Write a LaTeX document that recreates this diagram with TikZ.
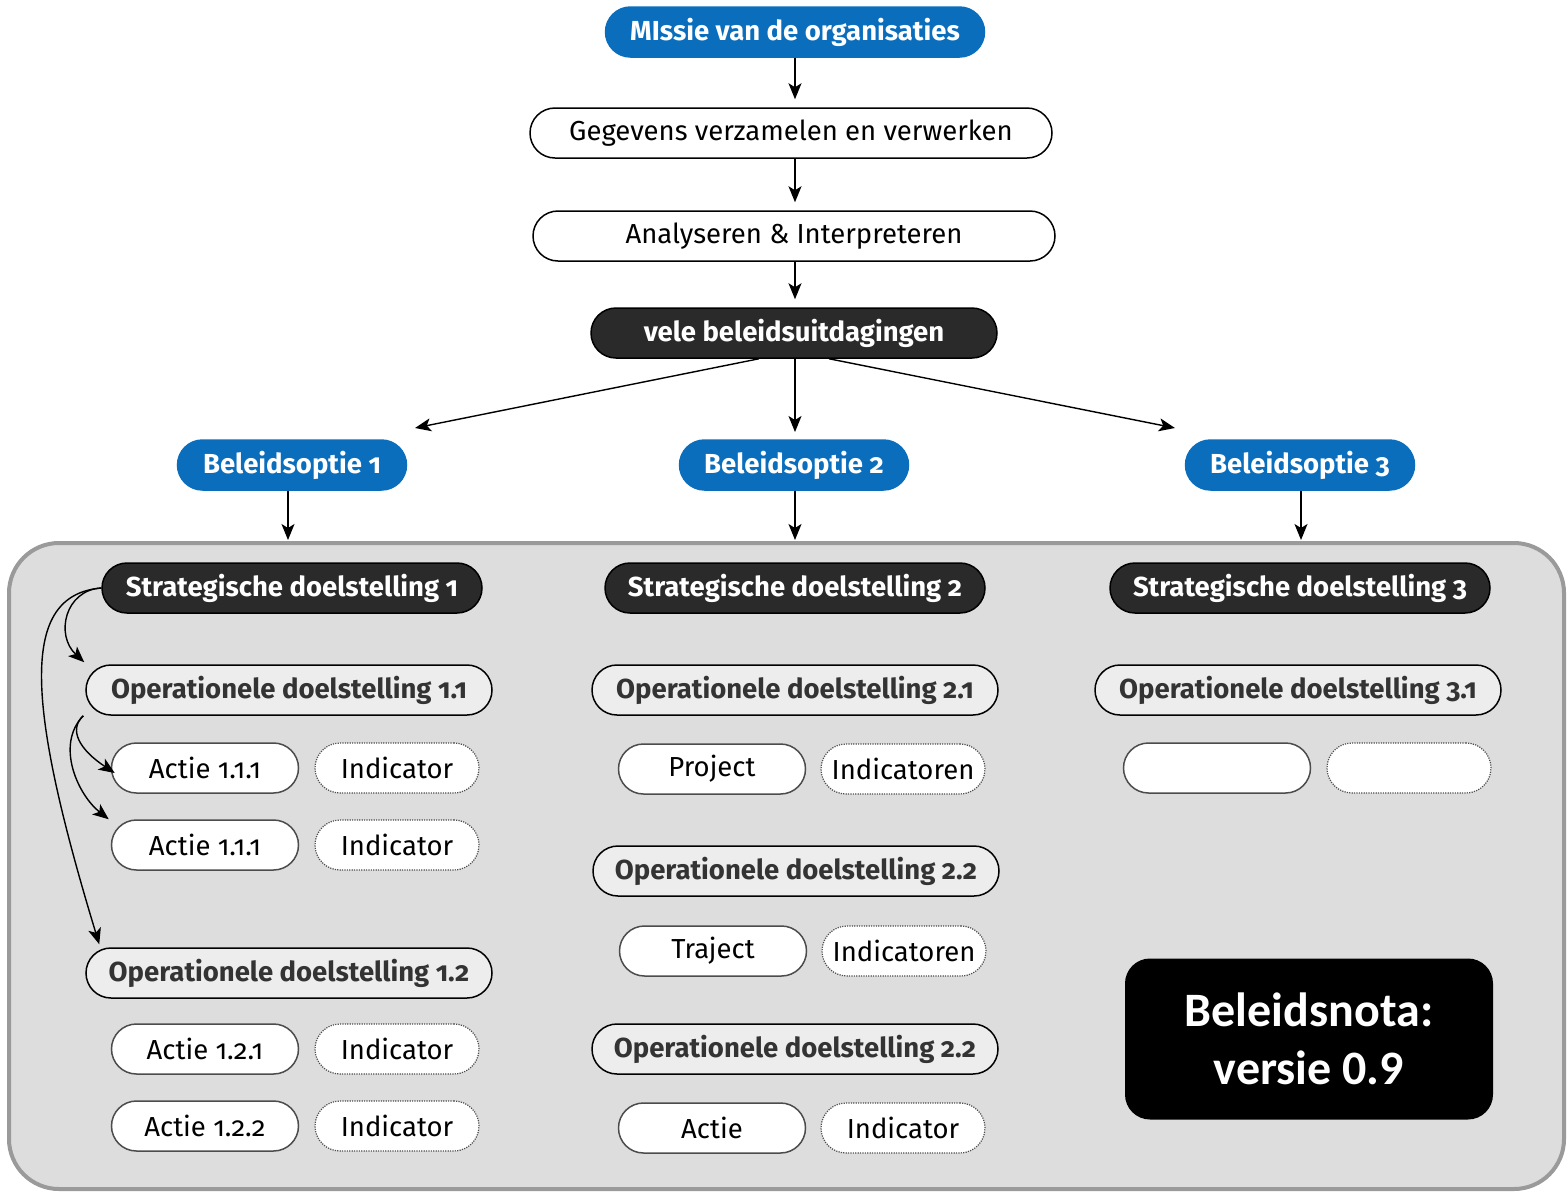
\documentclass[tikz,border=0pt]{standalone}
\usepackage{fontspec}
\setmainfont{Fira Sans}[Numbers=OldStyle]
\newfontfamily\calib{Carlito}
\usetikzlibrary{positioning,arrows.meta}
\definecolor{blauwkl}{HTML}{0A6EBD}
\definecolor{donkerkl}{HTML}{2A2A2A}
\definecolor{vlakkl}{HTML}{DDDDDD}
\definecolor{randkl}{HTML}{9A9A9A}
\definecolor{opkl}{HTML}{EDEDED}
\newcommand{\grootfont}{\fontsize{27.5}{32}\selectfont}
\tikzset{
  pil/.style={rectangle, rounded corners=25pt, minimum height=50pt, inner sep=0pt, line width=1.5pt, font=\grootfont},
  blauw/.style={pil, fill=blauwkl, draw=blauwkl, text=white, font=\grootfont\bfseries},
  wit/.style={pil, fill=white, draw=black, minimum width=522pt},
  donker/.style={pil, fill=donkerkl, draw=black, text=white, font=\grootfont\bfseries},
  operat/.style={pil, fill=opkl, draw=black, text=black!80, font=\grootfont\bfseries, minimum width=406pt},
  actie/.style={pil, fill=white, draw=black!70, minimum width=187pt},
  indic/.style={pil, fill=white, draw=black!70, line width=1.2pt, dash pattern=on 1.2pt off 1.2pt, minimum width=164pt}
}
\begin{document}
\begin{tikzpicture}[x=1pt, y=-1pt, >={Stealth[length=16pt,width=13pt,inset=4pt]}, line width=1.4pt]
\useasboundingbox (0,0) rectangle (1567,1192);

\draw[fill=vlakkl, draw=randkl, line width=4pt, rounded corners=50pt] (9,543) rectangle (1564,1189);

\node[blauw, minimum width=379pt] (missie) at (795,32) {MIssie van de organisaties};
\node[wit] (gegevens) at (791,133) {Gegevens verzamelen en verwerken};
\node[wit] (analyse) at (794,236) {Analyseren \& Interpreteren};
\node[donker, minimum width=406pt] (vele) at (794,333) {vele beleidsuitdagingen};

\node[blauw, minimum width=229pt] (b1) at (292,465) {Beleidsoptie 1};
\node[blauw, minimum width=229pt] (b2) at (794,465) {Beleidsoptie 2};
\node[blauw, minimum width=229pt] (b3) at (1300,465) {Beleidsoptie 3};

\coordinate (p1) at (415,428);
\coordinate (p2) at (795,432);
\coordinate (p3) at (1175,428);
\coordinate (s1top) at (288,540);
\coordinate (s2top) at (795,540);
\coordinate (s3top) at (1301,540);

\node[donker, minimum width=380pt] (s1) at (292,588) {Strategische doelstelling 1};
\node[donker, minimum width=380pt] (s2) at (795,588) {Strategische doelstelling 2};
\node[donker, minimum width=380pt] (s3) at (1300,588) {Strategische doelstelling 3};

\node[operat] (o11) at (289,690) {Operationele doelstelling 1.1};
\node[actie] (a111) at (205,768) {Actie 1.1.1};
\node[indic] (i111) at (397,768) {Indicator};
\node[actie] (a112) at (205,845) {Actie 1.1.1};
\node[indic] (i112) at (397,845) {Indicator};
\node[operat] (o12) at (289,973) {Operationele doelstelling 1.2};
\node[actie] (a121) at (205,1049) {Actie 1.2.1};
\node[indic] (i121) at (397,1049) {Indicator};
\node[actie] (a122) at (205,1126) {Actie 1.2.2};
\node[indic] (i122) at (397,1126) {Indicator};

\node[operat] (o21) at (795,690) {Operationele doelstelling 2.1};
\node[actie] (proj) at (712,769) {Project};
\node[indic] (i21) at (903,769) {Indicatoren};
\node[operat] (o22) at (796,871) {Operationele doelstelling 2.2};
\node[actie] (traj) at (713,951) {Traject};
\node[indic] (i22) at (904,951) {Indicatoren};
\node[operat] (o23) at (795,1049) {Operationele doelstelling 2.2};
\node[actie] (act) at (712,1128) {Actie};
\node[indic] (i23) at (903,1128) {Indicator};

\node[operat] (o31) at (1298,690) {Operationele doelstelling 3.1};
\node[actie] (a31) at (1217,768) {};
\node[indic] (i31) at (1409,768) {};

\node[fill=black, rounded corners=25pt, minimum width=368pt, minimum height=161pt, text=white, align=center, font=\calib\bfseries\fontsize{48}{58}\selectfont] (nota) at (1309,1039) {Beleidsnota:\\versie 0.9};

\draw[->, shorten >=8pt] (missie) -- (missie |- gegevens.north);
\draw[->, shorten >=8pt] (gegevens.south -| missie) -- (missie |- analyse.north);
\draw[->, shorten >=8pt] (analyse.south -| missie) -- (missie |- vele.north);
\draw[->] (vele.south) ++(-35,0) -- (p1);
\draw[->] (vele.south -| p2) -- (p2);
\draw[->] (vele.south) ++(35,0) -- (p3);

\draw[->] (b1.south -| s1top) -- (s1top);
\draw[->] (b2.south -| s2top) -- (s2top);
\draw[->] (b3.south -| s3top) -- (s3top);

\draw[->] (s1.west) .. controls (65,590) and (55,635) .. ([xshift=-1pt,yshift=2pt]o11.north west);
\draw[->] (s1.west) .. controls (20,595) and (25,700) .. ([xshift=14pt,yshift=3pt]o12.north west);
\draw[->] ([xshift=-2pt]o11.south west) .. controls (68,730) and (80,750) .. ([xshift=4pt,yshift=-5pt]a111.west);
\draw[->] ([xshift=-2pt]o11.south west) .. controls (55,745) and (78,795) .. ([xshift=-2pt]a112.north west);

\end{tikzpicture}
\end{document}
